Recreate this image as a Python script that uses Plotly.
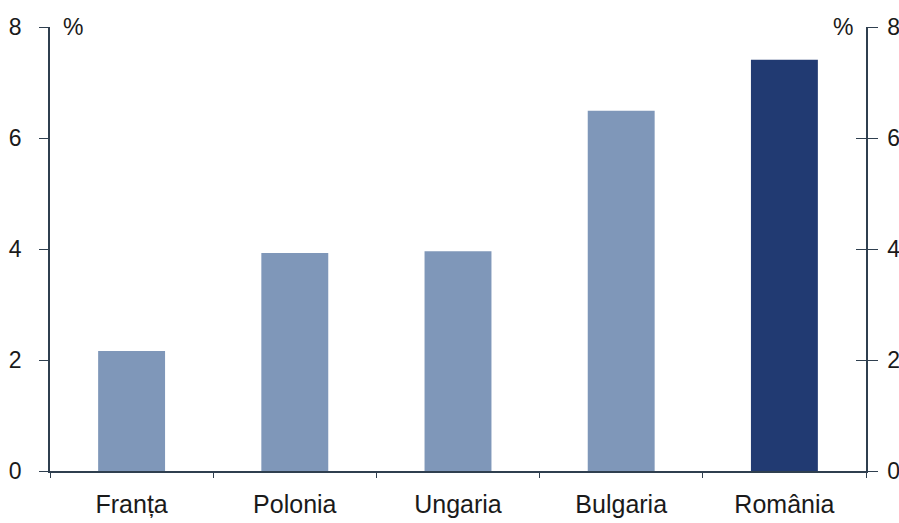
import plotly.graph_objects as go

categories = ["Franța", "Polonia", "Ungaria", "Bulgaria", "România"]
values = [2.16, 3.93, 3.96, 6.49, 7.41]
bar_colors = ["#7f97b9", "#7f97b9", "#7f97b9", "#7f97b9", "#213a72"]
y_ticks = [0, 2, 4, 6, 8]

axis_color = "#2f3f4f"
tick_font = dict(family="Liberation Sans, Arial, sans-serif", size=23, color="#1a1a1a")
cat_font = dict(family="Liberation Sans, Arial, sans-serif", size=25, color="#1a1a1a")

fig = go.Figure()
fig.add_trace(go.Bar(x=categories, y=values, marker=dict(color=bar_colors, line=dict(width=0)),
                     width=0.41, showlegend=False, hoverinfo="skip"))
fig.add_trace(go.Scatter(x=categories, y=values, yaxis="y2", mode="markers",
                         marker=dict(opacity=0), showlegend=False, hoverinfo="skip"))
fig.add_trace(go.Scatter(x=categories, y=values, yaxis="y3", mode="markers",
                         marker=dict(opacity=0), showlegend=False, hoverinfo="skip"))

fig.update_layout(
    width=899, height=523,
    margin=dict(l=50, r=33, t=27, b=52, autoexpand=False),
    paper_bgcolor="white", plot_bgcolor="white",
    font=tick_font,
    xaxis=dict(range=[-0.5, 4.5], showline=True, linecolor=axis_color, linewidth=1.5,
               ticks="outside", tickson="boundaries", ticklen=5, tickcolor=axis_color,
               showgrid=False, tickfont=cat_font, ticklabelstandoff=10, automargin=False),
    yaxis=dict(range=[0, 8], tickvals=y_ticks, showline=True, linecolor=axis_color, linewidth=1.5,
               ticks="outside", ticklen=9, tickcolor=axis_color, showgrid=False, zeroline=False,
               tickfont=tick_font, ticklabelstandoff=13, automargin=False),
    yaxis2=dict(range=[0, 8], tickvals=y_ticks, overlaying="y", side="right", showline=True,
                linecolor=axis_color, linewidth=1.5, ticks="outside", ticklen=10,
                tickcolor=axis_color, showgrid=False, zeroline=False, tickfont=tick_font,
                ticklabelstandoff=5, automargin=False),
    yaxis3=dict(range=[0, 8], tickvals=y_ticks, overlaying="y", side="right", showline=False,
                ticks="inside", ticklen=10, tickcolor=axis_color, showgrid=False,
                zeroline=False, showticklabels=False, automargin=False),
    annotations=[
        dict(text="%", xref="paper", yref="paper", x=0.013, y=1.0, xanchor="left", yanchor="middle",
             showarrow=False, font=tick_font),
        dict(text="%", xref="paper", yref="paper", x=0.987, y=1.0, xanchor="right", yanchor="middle",
             showarrow=False, font=tick_font),
    ],
)

fig.write_html("out.html")
